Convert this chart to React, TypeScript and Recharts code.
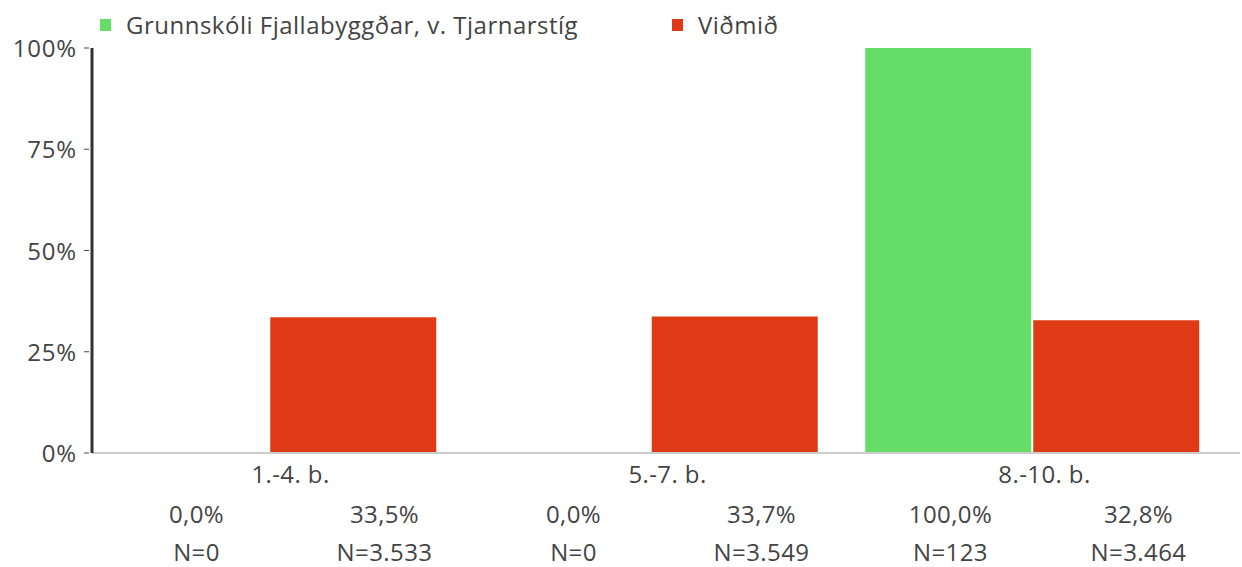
import { BarChart, Bar, XAxis, YAxis } from "recharts";

const categories = ["1.-4. b.", "5.-7. b.", "8.-10. b."];
const schoolValues = [0, 0, 100];
const benchmarkValues = [33.5, 33.7, 32.8];
const schoolN = [0, 0, 123];
const benchmarkN = [3533, 3549, 3464];
const yTicks = [0, 25, 50, 75, 100];

const seriesNames = ["Grunnskóli Fjallabyggðar, v. Tjarnarstíg", "Viðmið"];
const GREEN = "#66dd66";
const RED = "#de3a15";
const TEXT = "#444444";
const FONT = "'Open Sans', 'Noto Sans', sans-serif";
const FS = 24;

const chartData = categories.map((name, i) => ({
  name,
  school: schoolValues[i],
  benchmark: benchmarkValues[i],
}));

const pct = (v: number) => v.toFixed(1).replace(".", ",") + "%";
const nLabel = (n: number) =>
  "N=" + String(n).replace(/\B(?=(\d{3})+(?!\d))/g, ".");

const XTick = (props: any) => {
  const { x, y, payload } = props;
  const i = payload.index;
  const style = { fontSize: FS, fill: TEXT, fontFamily: FONT, letterSpacing: 0.4 };
  return (
    <g>
      <text x={x} y={y + 30} textAnchor="middle" {...style}>
        {categories[i]}
      </text>
      <text x={x - 94} y={y + 70} textAnchor="middle" {...style}>
        {pct(schoolValues[i])}
      </text>
      <text x={x + 94} y={y + 70} textAnchor="middle" {...style}>
        {pct(benchmarkValues[i])}
      </text>
      <text x={x - 94} y={y + 108} textAnchor="middle" {...style}>
        {nLabel(schoolN[i])}
      </text>
      <text x={x + 94} y={y + 108} textAnchor="middle" {...style}>
        {nLabel(benchmarkN[i])}
      </text>
    </g>
  );
};

const YTick = (props: any) => {
  const { x, y, payload } = props;
  return (
    <g>
      <text
        x={x - 15}
        y={y + 9}
        textAnchor="end"
        fontSize={FS}
        fill={TEXT}
        fontFamily={FONT}
        letterSpacing={0.8}
      >
        {payload.value}%
      </text>
      <line x1={x - 8} x2={x - 3} y1={y} y2={y} stroke={TEXT} strokeWidth={1} />
    </g>
  );
};

const legendItems = [
  { name: seriesNames[0], color: GREEN, left: 100 },
  { name: seriesNames[1], color: RED, left: 672 },
];

export default function App() {
  return (
    <div
      style={{
        position: "absolute",
        left: 0,
        top: 0,
        width: 1242,
        height: 567,
        background: "#fff",
        fontFamily: FONT,
      }}
    >
      {legendItems.map((item) => (
        <div
          key={item.name}
          style={{
            position: "absolute",
            top: 9,
            left: item.left,
            display: "flex",
            alignItems: "center",
            fontSize: FS,
            lineHeight: "32px",
            letterSpacing: 0.5,
            color: TEXT,
            whiteSpace: "nowrap",
          }}
        >
          <span
            style={{
              display: "inline-block",
              width: 11,
              height: 12,
              background: item.color,
              marginRight: 15,
            }}
          />
          {item.name}
        </div>
      ))}
      <BarChart
        width={1242}
        height={567}
        data={chartData}
        margin={{ top: 48, right: 2, bottom: 0, left: 0 }}
        barSize={166}
        barGap={2}
      >
        <XAxis
          xAxisId="bars"
          dataKey="name"
          hide
          height={0}
          padding={{ left: -13.75, right: 17.25 }}
        />
        <XAxis
          xAxisId="labels"
          dataKey="name"
          height={114}
          padding={{ left: 10, right: 7 }}
          axisLine={{ stroke: "#cccccc", strokeWidth: 2 }}
          tickLine={false}
          tickSize={0}
          tickMargin={0}
          tick={<XTick />}
          interval={0}
        />
        <YAxis
          domain={[0, 100]}
          ticks={yTicks}
          width={92}
          axisLine={{ stroke: "#333333", strokeWidth: 3 }}
          tickLine={false}
          tickSize={0}
          tickMargin={0}
          tick={<YTick />}
        />
        <Bar
          xAxisId="bars"
          dataKey="school"
          name={seriesNames[0]}
          fill={GREEN}
          isAnimationActive={false}
        />
        <Bar
          xAxisId="bars"
          dataKey="benchmark"
          name={seriesNames[1]}
          fill={RED}
          isAnimationActive={false}
        />
      </BarChart>
    </div>
  );
}
